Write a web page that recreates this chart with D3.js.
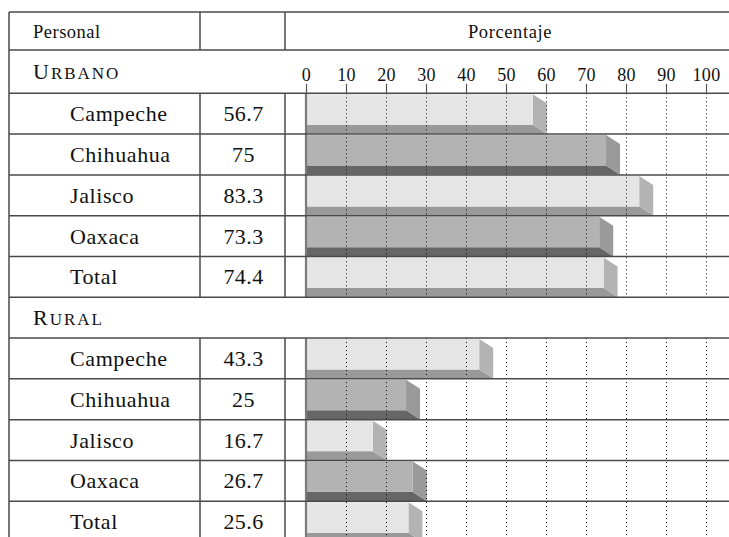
<!DOCTYPE html>
<html><head><meta charset="utf-8">
<script src="https://cdn.jsdelivr.net/npm/d3@7"></script>
<style>
html,body{margin:0;padding:0;background:#fff;overflow:hidden}
svg{display:block}
text{font-family:"Liberation Serif","Times New Roman",serif;fill:#111}
</style></head><body>
<svg id="chart" width="729" height="537"></svg>
<script>
// Personal por entidad (porcentaje), ámbito urbano y rural
const states = ["Campeche", "Chihuahua", "Jalisco", "Oaxaca", "Total"];
const urbano = [56.7, 75, 83.3, 73.3, 74.4];
const rural = [43.3, 25, 16.7, 26.7, 25.6];
const sectionNames = ["Urbano", "Rural"];
const tickValues = [0, 10, 20, 30, 40, 50, 60, 70, 80, 90, 100];
const headers = ["Personal", "Porcentaje"];

(function draw() {
  const svg = d3.select("#chart");
  const W = 729;

  // table geometry
  const tLeft = 9, col1 = 200, col2 = 285, tRight = W + 10;
  const tTop = 12, headBottom = 50;
  const lineColor = "#4a4a4a";

  // flat list of rows: a section heading followed by its states
  const rows = [];
  [urbano, rural].forEach((vals, s) => {
    rows.push({ kind: "section", name: sectionNames[s], s });
    states.forEach((st, i) => rows.push({ kind: "data", name: st, value: vals[i], i, s }));
  });

  const y = d3.scaleBand().domain(d3.range(rows.length)).range([52.5, 542]);
  const rowTop = i => (i === 0 ? headBottom : y(i));
  const rowBottom = i => y(i) + y.bandwidth();

  const x = d3.scaleLinear().domain([0, 100]).range([306, 706]);

  // bar styling: alternating light / dark extruded bars
  const palettes = [
    { front: "#e5e5e5", side: "#b3b3b3", bottom: "#999999" },
    { front: "#b3b3b3", side: "#9a9a9a", bottom: "#666666" }
  ];
  const frontH = 30.5, dx = 14, dy = 9;

  const gBars = svg.append("g");
  rows.forEach((r, i) => {
    if (r.kind !== "data") return;
    const p = palettes[r.i % 2];
    const t = rowTop(i) + 1;
    const x0 = x(0), x1 = x(r.value);
    const g = gBars.append("g");
    // underside
    g.append("path")
      .attr("d", `M${x0},${t + frontH}L${x1},${t + frontH}L${x1 + dx},${t + frontH + dy}L${x0},${t + frontH + dy}Z`)
      .attr("fill", p.bottom);
    // end face
    g.append("path")
      .attr("d", `M${x1},${t}L${x1 + dx},${t + dy}L${x1 + dx},${t + frontH + dy}L${x1},${t + frontH}Z`)
      .attr("fill", p.side);
    // front face
    g.append("rect")
      .attr("x", x0).attr("y", t)
      .attr("width", x1 - x0).attr("height", frontH)
      .attr("fill", p.front);
  });

  // dotted gridlines and baseline for each section
  [0, 1].forEach(s => {
    const idx = rows.map((r, i) => i).filter(i => rows[i].kind === "data" && rows[i].s === s);
    const y0 = rowTop(idx[0]), y1 = Math.min(rowBottom(idx[idx.length - 1]), 545);
    svg.append("g").selectAll("line")
      .data(tickValues.slice(1))
      .join("line")
      .attr("x1", d => Math.round(x(d)) + 0.5).attr("x2", d => Math.round(x(d)) + 0.5)
      .attr("y1", y0).attr("y2", y1)
      .attr("stroke", "#111").attr("stroke-width", 1)
      .attr("stroke-dasharray", "1,3");
    svg.append("line")
      .attr("x1", x(0)).attr("x2", x(0))
      .attr("y1", y0).attr("y2", y1)
      .attr("stroke", "#7a7a7a").attr("stroke-width", 2.2);
  });

  // axis across the top of the chart column
  const axisY = rowBottom(0);
  const axis = d3.axisTop(x).tickValues(tickValues).tickSize(9).tickPadding(3).tickFormat(d3.format("d"));
  const gAxis = svg.append("g").attr("transform", `translate(0,${axisY - 0.5})`).call(axis);
  gAxis.select(".domain").remove();
  gAxis.selectAll(".tick line").attr("stroke", "#555").attr("stroke-width", 1.2);
  gAxis.selectAll(".tick text")
    .attr("font-family", '"Liberation Serif", serif')
    .attr("font-size", 18).attr("letter-spacing", 0.3)
    .attr("fill", "#111");

  // table rules
  const gLines = svg.append("g").attr("stroke", lineColor).attr("stroke-width", 1.5);
  const hY = [tTop, headBottom].concat(rows.map((r, i) => rowBottom(i)));
  gLines.selectAll("line.h").data(hY).join("line").attr("class", "h")
    .attr("x1", tLeft).attr("x2", tRight)
    .attr("y1", d => d).attr("y2", d => d);
  gLines.append("line").attr("x1", tLeft).attr("x2", tLeft).attr("y1", tTop).attr("y2", 545);
  const vSpans = [[tTop, headBottom]].concat(
    rows.map((r, i) => [r, i]).filter(([r]) => r.kind === "data").map(([r, i]) => [rowTop(i), rowBottom(i)])
  );
  [col1, col2].forEach(cx => {
    vSpans.forEach(([a, b]) => {
      gLines.append("line").attr("x1", cx).attr("x2", cx).attr("y1", a).attr("y2", b);
    });
  });

  // header texts
  svg.append("text").attr("x", 33).attr("y", 37.5)
    .attr("font-size", 18.5).attr("letter-spacing", 0.5).text(headers[0]);
  svg.append("text").attr("x", 510).attr("y", 37.5).attr("text-anchor", "middle")
    .attr("font-size", 18.5).attr("letter-spacing", 0.6).text(headers[1]);

  // row texts
  rows.forEach((r, i) => {
    const cy = (rowTop(i) + rowBottom(i)) / 2;
    if (r.kind === "section") {
      const t = svg.append("text").attr("x", 33).attr("y", cy + 7.5).attr("letter-spacing", 2);
      t.append("tspan").attr("font-size", 22).text(r.name[0].toUpperCase());
      t.append("tspan").attr("font-size", 17).text(r.name.slice(1).toUpperCase());
    } else {
      svg.append("text").attr("x", 70).attr("y", cy + 7.5)
        .attr("font-size", 22).attr("letter-spacing", 0.6).text(r.name);
      svg.append("text").attr("x", (col1 + col2) / 2 + 1).attr("y", cy + 7.5).attr("text-anchor", "middle")
        .attr("font-size", 22).attr("letter-spacing", 0.4).text(String(r.value));
    }
  });
})();
</script>
</body></html>
